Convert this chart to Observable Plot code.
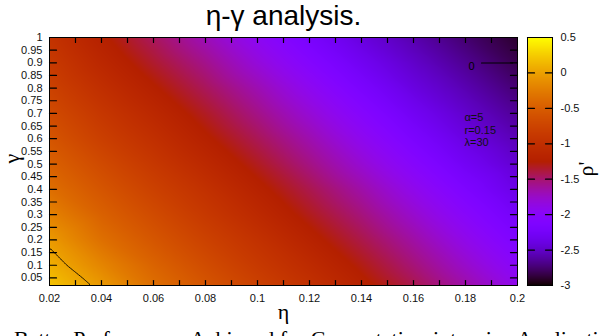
<!DOCTYPE html>
<html><head><meta charset="utf-8">
<script src="https://cdn.jsdelivr.net/npm/d3@7"></script>
<script src="https://cdn.jsdelivr.net/npm/@observablehq/plot@0.6"></script>
<style>
html,body{margin:0;padding:0;background:#fff;overflow:hidden;}
#wrap{position:relative;width:600px;height:336px;overflow:hidden;background:#fff;}
#wrap svg{position:absolute;top:0;}
#caption{position:absolute;left:14px;top:327px;font-family:"Liberation Serif","Times New Roman",serif;font-size:22px;white-space:nowrap;color:#000;line-height:24px;}
</style></head><body><div id="wrap"></div>
<script>
// η values (columns) and γ values (rows)
const etaValues = [0.02, 0.04, 0.06, 0.08, 0.10, 0.12, 0.14, 0.16, 0.18, 0.20];
const gammaValues = [0.02, 0.1, 0.2, 0.3, 0.4, 0.5, 0.6, 0.7, 0.8, 0.9, 1.0];
// ρ', one row per γ (bottom to top)
const rho_g002 = [0.20, -0.05, -0.35, -0.57, -0.78, -0.98, -1.20, -1.42, -1.65, -1.90];
const rho_g010 = [0.09, -0.18, -0.44, -0.66, -0.87, -1.07, -1.29, -1.52, -1.76, -2.01];
const rho_g020 = [-0.04, -0.34, -0.56, -0.77, -0.97, -1.19, -1.41, -1.64, -1.89, -2.14];
const rho_g030 = [-0.20, -0.46, -0.67, -0.88, -1.09, -1.31, -1.53, -1.77, -2.02, -2.26];
const rho_g040 = [-0.35, -0.57, -0.78, -0.98, -1.20, -1.42, -1.65, -1.90, -2.15, -2.38];
const rho_g050 = [-0.46, -0.68, -0.89, -1.10, -1.32, -1.55, -1.79, -2.04, -2.28, -2.47];
const rho_g060 = [-0.57, -0.80, -1.00, -1.22, -1.44, -1.67, -1.92, -2.17, -2.39, -2.56];
const rho_g070 = [-0.67, -0.90, -1.11, -1.33, -1.56, -1.80, -2.05, -2.29, -2.48, -2.65];
const rho_g080 = [-0.77, -1.01, -1.23, -1.45, -1.68, -1.93, -2.18, -2.40, -2.57, -2.74];
const rho_g090 = [-0.86, -1.12, -1.35, -1.57, -1.82, -2.07, -2.30, -2.49, -2.66, -2.83];
const rho_g100 = [-0.95, -1.22, -1.46, -1.70, -1.95, -2.20, -2.41, -2.58, -2.75, -2.90];
const rhoRows = [rho_g002, rho_g010, rho_g020, rho_g030, rho_g040, rho_g050, rho_g060, rho_g070, rho_g080, rho_g090, rho_g100];

// tick labels
const xTicks = [0.02, 0.04, 0.06, 0.08, 0.1, 0.12, 0.14, 0.16, 0.18, 0.2];
const xTickMarks = [0.03, 0.04, 0.05, 0.06, 0.07, 0.08, 0.09, 0.1, 0.11, 0.12, 0.13, 0.14, 0.15, 0.16, 0.17, 0.18, 0.19];
const yTicks = [0.05, 0.1, 0.15, 0.2, 0.25, 0.3, 0.35, 0.4, 0.45, 0.5, 0.55, 0.6, 0.65, 0.7, 0.75, 0.8, 0.85, 0.9, 0.95, 1];
const cbTicks = [-3, -2.5, -2, -1.5, -1, -0.5, 0, 0.5];
const contourLevels = [0];
const titleText = "η-γ analysis.";
const xLabel = "η";
const yLabel = "γ";
const cbLabel = "ρ'";
const notes = ["α=5", "r=0.15", "λ=30"];
const captionText = "Better Performance Achieved for Computation-intensive Applications";

const table = [];
gammaValues.forEach((g, i) => etaValues.forEach((e, j) => table.push({eta: e, gamma: g, rho: rhoRows[i][j]})));

// gnuplot default palette (rgbformulae 7,5,15)
const palette = t => {
  t = Math.max(0, Math.min(1, t));
  const r = Math.round(255 * Math.sqrt(t));
  const g = Math.round(255 * t * t * t);
  const b = Math.round(255 * Math.max(0, Math.sin(2 * Math.PI * t)));
  return `rgb(${r},${g},${b})`;
};
const colorScale = {type: "linear", domain: [-3, 0.5], interpolate: palette, clamp: true};
const fmt = d => String(+(+d).toFixed(2));
const tickShape = {draw(ctx, l) { ctx.moveTo(0, 0); ctx.lineTo(0, -l); }};
const sans = "'Liberation Sans', Arial, sans-serif";
const serif = "'Liberation Serif', 'Times New Roman', serif";

const main = Plot.plot({
  width: 600, height: 336,
  marginLeft: 49, marginRight: 83, marginTop: 37, marginBottom: 51,
  x: {domain: [0.02, 0.2]},
  y: {domain: [0.02, 1]},
  color: colorScale,
  style: {fontFamily: sans, fontSize: "11px", color: "#111", background: "transparent", overflow: "visible"},
  marks: [
    Plot.raster(table, {x: "eta", y: "gamma", fill: "rho", interpolate: "barycentric", pixelSize: 1}),
    Plot.contour(table, {x: "eta", y: "gamma", value: "rho", thresholds: contourLevels, interpolate: "barycentric", fill: "none", stroke: "black", strokeWidth: 0.9}),
    Plot.frame({stroke: "#000", strokeWidth: 1}),
    Plot.vector(yTicks, {y: d => d, frameAnchor: "left", rotate: 90, length: 7, anchor: "start", shape: tickShape, stroke: "#000", strokeWidth: 1.2}),
    Plot.vector(yTicks, {y: d => d, frameAnchor: "right", rotate: -90, length: 7, anchor: "start", shape: tickShape, stroke: "#000", strokeWidth: 1.2}),
    Plot.vector(xTickMarks, {x: d => d, frameAnchor: "bottom", rotate: 0, length: 5, anchor: "start", shape: tickShape, stroke: "#000", strokeWidth: 1.2}),
    Plot.vector(xTickMarks, {x: d => d, frameAnchor: "top", rotate: 180, length: 5, anchor: "start", shape: tickShape, stroke: "#000", strokeWidth: 1.2}),
    Plot.axisX({ticks: xTicks, tickSize: 0, tickPadding: 9, tickFormat: fmt, label: null, fontSize: 11}),
    Plot.axisY({ticks: yTicks, tickSize: 0, tickPadding: 7, tickFormat: fmt, label: null, fontSize: 11}),
    Plot.text([titleText], {frameAnchor: "top", dy: -32, fontSize: 28, fontFamily: sans, fill: "#000"}),
    Plot.text([xLabel], {frameAnchor: "bottom", dy: 33, fontSize: 22, fontFamily: serif, fill: "#000"}),
    Plot.text([yLabel], {frameAnchor: "left", dx: -38, dy: 2, rotate: -90, fontSize: 22, fontFamily: serif, fill: "#000"}),
    Plot.text(["0"], {frameAnchor: "top-right", dx: -43, dy: 25, textAnchor: "end", fontSize: 11, fill: "#000"}),
    Plot.vector([0], {frameAnchor: "top-right", dx: -5, dy: 25.5, rotate: -90, length: 31, anchor: "start", shape: tickShape, stroke: "#000", strokeWidth: 1.2}),
    Plot.text([notes.join("\n")], {frameAnchor: "top-right", dx: -53, dy: 75, textAnchor: "start", lineHeight: 1.12, fontSize: 11, fill: "#111"})
  ]
});
main.style.left = "0px";

const cb = Plot.plot({
  width: 100, height: 336,
  marginLeft: 27, marginRight: 48, marginTop: 37, marginBottom: 51,
  x: {domain: [0, 1], axis: null},
  y: {domain: [-3, 0.5]},
  color: colorScale,
  style: {fontFamily: sans, fontSize: "11px", color: "#111", background: "transparent", overflow: "visible"},
  marks: [
    Plot.raster({fill: (x, y) => y, x1: 0, x2: 1, y1: -3, y2: 0.5, pixelSize: 1}),
    Plot.frame({stroke: "#000", strokeWidth: 1}),
    Plot.vector(cbTicks, {y: d => d, frameAnchor: "left", rotate: 90, length: 7, anchor: "start", shape: tickShape, stroke: "#000", strokeWidth: 1.2}),
    Plot.vector(cbTicks, {y: d => d, frameAnchor: "right", rotate: -90, length: 7, anchor: "start", shape: tickShape, stroke: "#000", strokeWidth: 1.2}),
    Plot.axisY({anchor: "right", ticks: cbTicks, tickSize: 0, tickPadding: 8, tickFormat: d => String(d), label: null, fontSize: 11}),
    Plot.text([cbLabel], {frameAnchor: "right", dx: 33, rotate: -90, fontSize: 22, fontFamily: serif, fill: "#000"})
  ]
});
cb.style.left = "500px";

const wrap = document.getElementById("wrap");
wrap.appendChild(main);
wrap.appendChild(cb);
const cap = document.createElement("div");
cap.id = "caption";
cap.textContent = captionText;
wrap.appendChild(cap);
</script>
</body></html>
